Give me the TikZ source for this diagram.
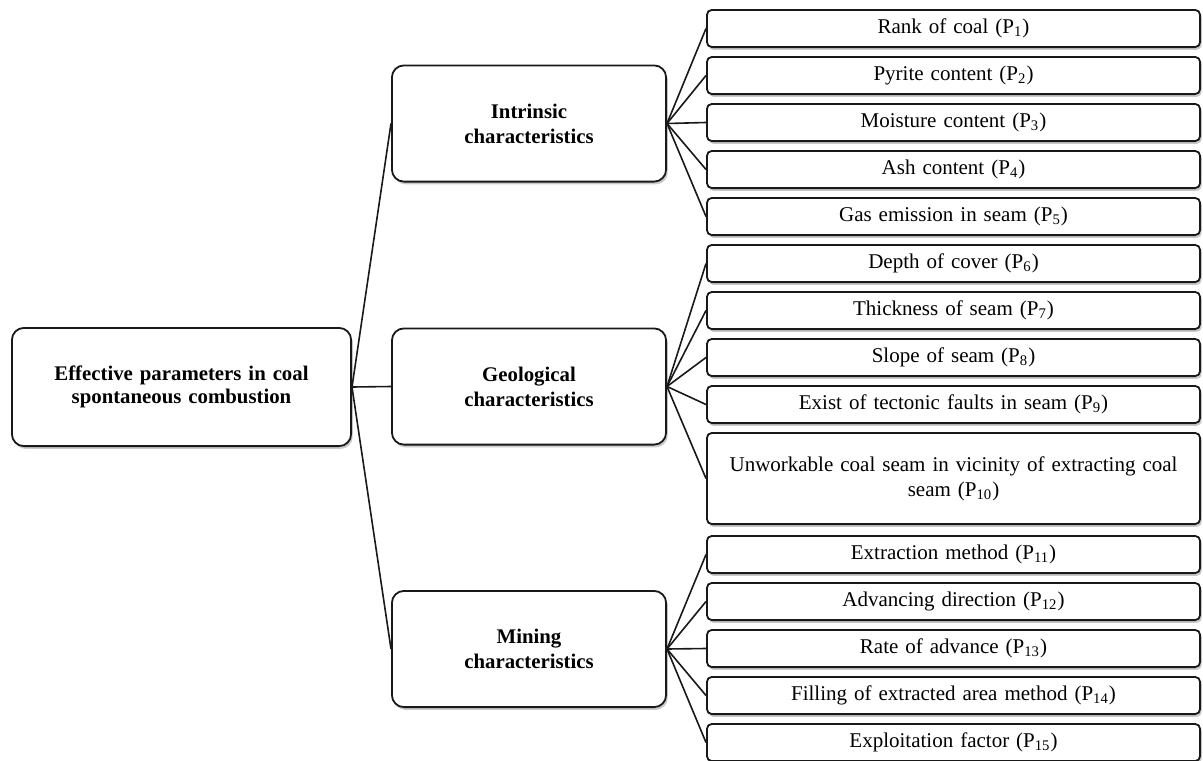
\documentclass[tikz,border=0pt]{standalone}
\usepackage{fontspec}
\setmainfont{Liberation Serif}
\usepackage{tikz}
\usetikzlibrary{shadows, positioning}

\begin{document}
\begin{tikzpicture}[
    x=0.5pt, y=-0.5pt,
    base/.style={rectangle, draw=black!90, line width=0.9pt, fill=white, align=center,
        drop shadow={shadow xshift=0.8pt, shadow yshift=-1.4pt, opacity=0.3, fill=black!70}},
    rootbox/.style={base, minimum width=169.6pt, minimum height=59.1pt, rounded corners=6pt, text width=155pt, font=\fontsize{10.4}{11.5}\selectfont\bfseries},
    groupbox/.style={base, minimum width=137.1pt, minimum height=58.1pt, rounded corners=6pt, text width=125pt, font=\fontsize{10.4}{12.5}\selectfont\bfseries},
    param/.style={base, minimum width=246.6pt, minimum height=18.6pt, rounded corners=2.5pt, text width=238pt, font=\fontsize{10.5}{12.5}\selectfont},
    link/.style={draw=black!90, line width=0.8pt}
]
\useasboundingbox (0,0) rectangle (1203,760);

\node (root) [rootbox] at (181.5,387) {Effective parameters in coal\\ spontaneous combustion};

\node (intr) [groupbox] at (529,123.5) {Intrinsic\\ characteristics};
\node (geol) [groupbox] at (529,386.5) {Geological\\ characteristics};
\node (mine) [groupbox] at (529,649) {Mining\\ characteristics};

\node (p1) [param] at (953.5,28.5) {Rank of coal (P\textsubscript{1})};
\node (p2) [param, below=4pt of p1] {Pyrite content (P\textsubscript{2})};
\node (p3) [param, below=4pt of p2] {Moisture content (P\textsubscript{3})};
\node (p4) [param, below=4pt of p3] {Ash content (P\textsubscript{4})};
\node (p5) [param, below=4pt of p4] {Gas emission in seam (P\textsubscript{5})};
\node (p6) [param, below=4pt of p5] {Depth of cover (P\textsubscript{6})};
\node (p7) [param, below=4pt of p6] {Thickness of seam (P\textsubscript{7})};
\node (p8) [param, below=4pt of p7] {Slope of seam (P\textsubscript{8})};
\node (p9) [param, below=4pt of p8] {Exist of tectonic faults in seam (P\textsubscript{9})};
\node (p10) [param, below=4pt of p9, minimum height=45.6pt] {Unworkable coal seam in vicinity of extracting coal\\ seam (P\textsubscript{10})};
\node (p11) [param, below=5pt of p10] {Extraction method (P\textsubscript{11})};
\node (p12) [param, below=4pt of p11] {Advancing direction (P\textsubscript{12})};
\node (p13) [param, below=4pt of p12] {Rate of advance (P\textsubscript{13})};
\node (p14) [param, below=4pt of p13] {Filling of extracted area method (P\textsubscript{14})};
\node (p15) [param, below=4pt of p14] {Exploitation factor (P\textsubscript{15})};

% root to groups
\foreach \g in {intr,geol,mine}
    \draw [link] (root.east) -- (\g.west);

% groups to parameters
\foreach \i in {1,...,5}
    \draw [link] (intr.east) -- (p\i.west);
\foreach \i in {6,...,10}
    \draw [link] (geol.east) -- (p\i.west);
\foreach \i in {11,...,15}
    \draw [link] (mine.east) -- (p\i.west);

\end{tikzpicture}
\end{document}
